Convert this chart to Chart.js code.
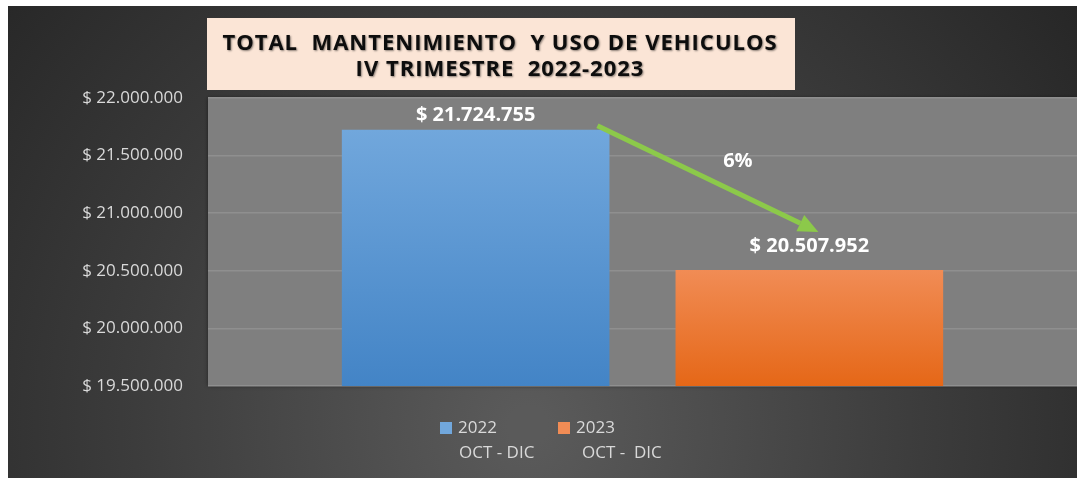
<!DOCTYPE html>
<html lang="es">
<head>
    <meta charset="UTF-8">
    <title>Total mantenimiento y uso de vehiculos</title>
    <style>
        body {
            margin: 0;
            padding: 0;
            background-color: #ffffff;
        }

        .chart-box {
            position: absolute;
            left: 8px;
            top: 6px;
            width: 1069px;
            height: 472px;
        }
    </style>
</head>
<body>
    <div class="chart-box">
        <canvas id="costChart"></canvas>
    </div>

    <script src="https://cdn.jsdelivr.net/npm/chart.js"></script>
    <script>
        // Data
        const periods = ['2022', '2023'];
        const periodRanges = ['OCT - DIC', 'OCT -  DIC'];
        const totals = [21724755, 20507952];
        const titleLines = ['TOTAL  MANTENIMIENTO  Y USO DE VEHICULOS', 'IV TRIMESTRE  2022-2023'];
        const axisMin = 19500000;
        const axisMax = 22000000;
        const axisStep = 500000;

        const barColors = [
            ['#71a7dc', '#4384c6'],
            ['#f18c55', '#e56717']
        ];

        const fontFamily = '"Open Sans", "DejaVu Sans", sans-serif';

        function money(n) {
            return '$ ' + String(Math.round(n)).replace(/\B(?=(\d{3})+(?!\d))/g, '.');
        }

        // Dark background, gray plot area and the title box
        const backdrop = {
            id: 'backdrop',
            beforeDraw(chart) {
                const ctx = chart.ctx;
                const w = chart.width, h = chart.height;
                const area = chart.chartArea;
                ctx.save();
                const bg = ctx.createRadialGradient(520, 420, 20, 520, 420, 700);
                bg.addColorStop(0, '#5a5a5a');
                bg.addColorStop(0.55, '#3c3c3c');
                bg.addColorStop(1, '#262626');
                ctx.fillStyle = bg;
                ctx.fillRect(0, 0, w, h);

                ctx.shadowColor = 'rgba(0,0,0,0.5)';
                ctx.shadowBlur = 4;
                ctx.fillStyle = '#7f7f7f';
                ctx.fillRect(area.left, area.top, area.right - area.left, area.bottom - area.top);
                ctx.restore();

                // title box
                ctx.save();
                ctx.fillStyle = '#fbe5d6';
                ctx.fillRect(199, 12, 588, 72);
                ctx.fillStyle = '#0d0d0d';
                ctx.textAlign = 'center';
                ctx.textBaseline = 'middle';
                ctx.font = 'bold 22px ' + fontFamily;
                ctx.letterSpacing = '1px';
                ctx.shadowColor = 'rgba(0,0,0,0.45)';
                ctx.shadowBlur = 2;
                ctx.shadowOffsetX = 1;
                ctx.shadowOffsetY = 1;
                ctx.fillText(titleLines[0], 492, 38);
                ctx.fillText(titleLines[1], 492, 64);
                ctx.restore();
            }
        };

        // Value labels, the green arrow with the change, and the legend
        const overlay = {
            id: 'overlay',
            afterDatasetsDraw(chart) {
                const ctx = chart.ctx;
                const b1 = chart.getDatasetMeta(0).data[0];
                const b2 = chart.getDatasetMeta(1).data[0];
                const lift = [14, 24];

                ctx.save();
                ctx.fillStyle = '#ffffff';
                ctx.textAlign = 'center';
                ctx.textBaseline = 'middle';
                ctx.font = 'bold 20px ' + fontFamily;
                [b1, b2].forEach((bar, i) => {
                    ctx.fillText(money(totals[i]), bar.x, bar.y - lift[i]);
                });

                // arrow
                const x1 = b1.x + b1.width / 2 - 12, y1 = b1.y - 4;
                const x2 = b2.x + 9, y2 = b2.y - 38;
                const ang = Math.atan2(y2 - y1, x2 - x1);
                const head = 20, half = 9;
                const bx = x2 - head * Math.cos(ang), by = y2 - head * Math.sin(ang);
                ctx.strokeStyle = '#8cc94a';
                ctx.fillStyle = '#8cc94a';
                ctx.lineWidth = 5;
                ctx.beginPath();
                ctx.moveTo(x1, y1);
                ctx.lineTo(bx, by);
                ctx.stroke();
                ctx.beginPath();
                ctx.moveTo(x2, y2);
                ctx.lineTo(bx + half * Math.sin(ang), by - half * Math.cos(ang));
                ctx.lineTo(bx - half * Math.sin(ang), by + half * Math.cos(ang));
                ctx.closePath();
                ctx.fill();

                const pct = Math.round((totals[0] - totals[1]) / totals[0] * 100);
                ctx.fillStyle = '#ffffff';
                ctx.font = 'bold 20px ' + fontFamily;
                ctx.fillText(pct + '%', (x1 + x2) / 2 + 30, (y1 + y2) / 2 - 17);

                // legend
                const lx = [432, 550];
                ctx.font = '17px ' + fontFamily;
                ctx.textAlign = 'left';
                periods.forEach((p, i) => {
                    ctx.fillStyle = barColors[i][0];
                    ctx.fillRect(lx[i], 416, 12, 12);
                    ctx.fillStyle = '#d9d9d9';
                    ctx.fillText(p, lx[i] + 18, 422);
                    ctx.fillText(periodRanges[i], lx[i] + 19 + i * 5, 447);
                });
                ctx.restore();
            }
        };

        const costCtx = document.getElementById('costChart').getContext('2d');
        const costChart = new Chart(costCtx, {
            type: 'bar',
            data: {
                labels: ['IV TRIMESTRE'],
                datasets: periods.map((p, i) => ({
                    label: p,
                    data: [totals[i]],
                    backgroundColor: function (c) {
                        const chart = c.chart;
                        if (!chart.chartArea) return barColors[i][0];
                        const top = chart.scales.y.getPixelForValue(totals[i]);
                        const g = chart.ctx.createLinearGradient(0, top, 0, chart.chartArea.bottom);
                        g.addColorStop(0, barColors[i][0]);
                        g.addColorStop(1, barColors[i][1]);
                        return g;
                    },
                    borderWidth: 0,
                    categoryPercentage: 0.768,
                    barPercentage: 0.802
                }))
            },
            options: {
                responsive: true,
                maintainAspectRatio: false,
                animation: false,
                layout: {
                    padding: { top: 92, bottom: 92, left: 0, right: 0 }
                },
                plugins: {
                    legend: { display: false },
                    tooltip: { enabled: false }
                },
                scales: {
                    x: { display: false },
                    y: {
                        min: axisMin,
                        max: axisMax,
                        afterFit(scale) { scale.width = 200; },
                        ticks: {
                            stepSize: axisStep,
                            color: '#d9d9d9',
                            font: { family: fontFamily, size: 17 },
                            padding: 25,
                            callback: v => money(v)
                        },
                        grid: {
                            color: '#8f8f8f',
                            lineWidth: 1.5,
                            drawTicks: false
                        },
                        border: { display: false }
                    }
                }
            },
            plugins: [backdrop, overlay]
        });
    </script>
</body>
</html>
